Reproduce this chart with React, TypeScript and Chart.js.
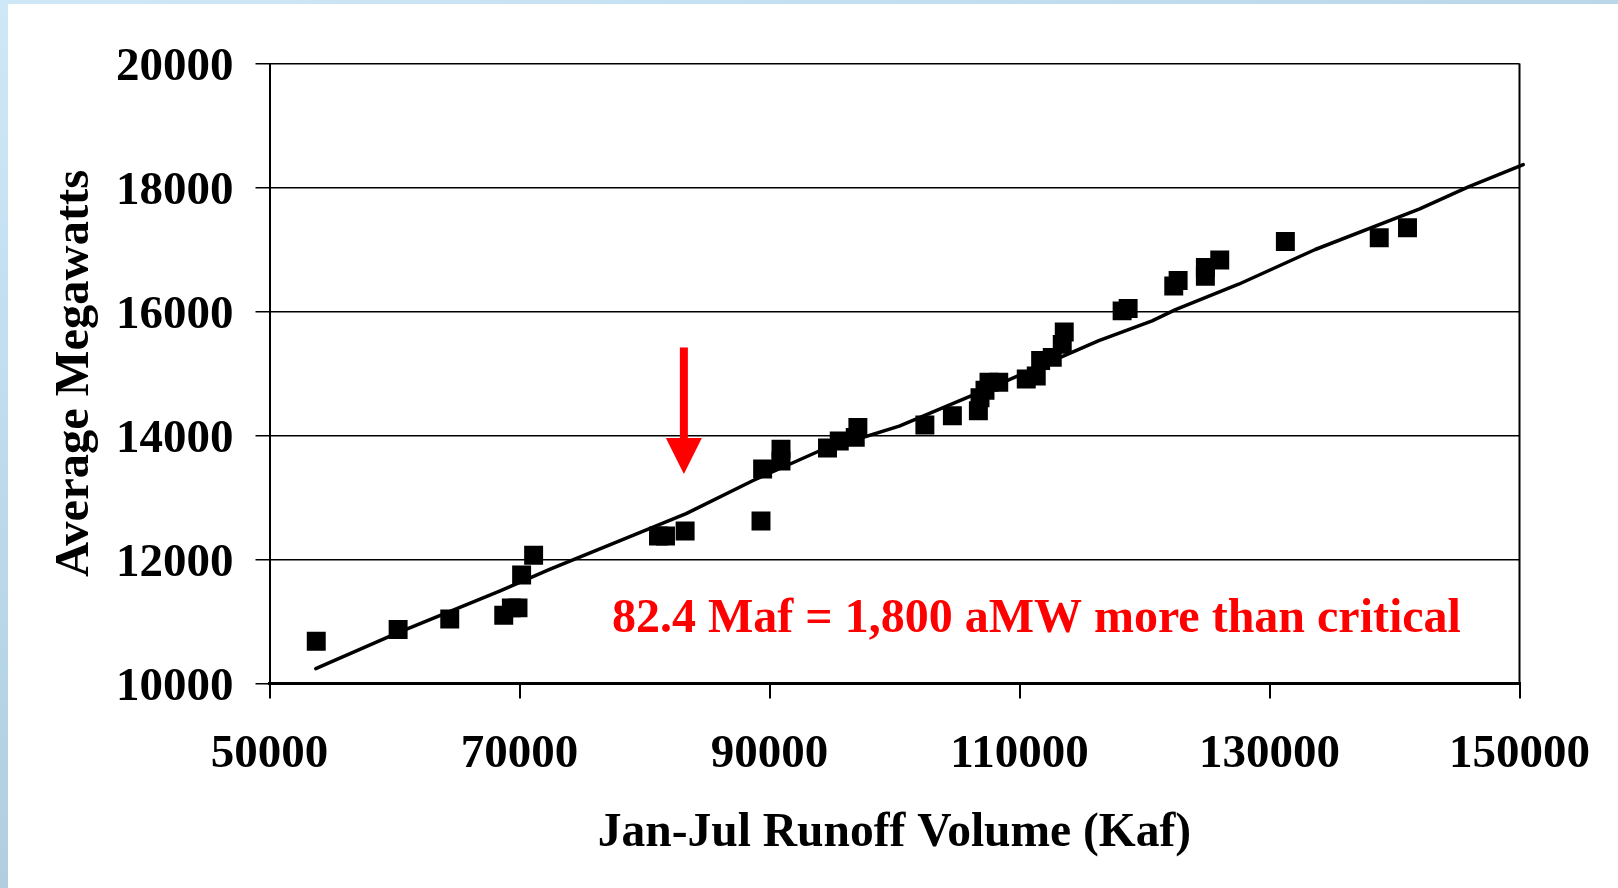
import React, { useEffect, useRef } from "react";
import { Chart, registerables } from "chart.js";

Chart.register(...registerables);

// ---- data ----
const runoffKaf = [
  53740, 60290, 64420, 68740, 69350, 69880, 70170, 71130, 81120, 81680,
  83250, 89320, 89450, 90920, 90920, 94640, 95580, 96860, 97070, 102430,
  104630, 106710, 106840, 107240, 107560, 108340, 110540, 111340, 111690, 112620,
  113420, 113580, 118210, 118690, 122340, 122690, 124870, 124870, 126020, 131270,
  138780, 141040,
];
const averageMW = [
  10680, 10870, 11040, 11100, 11220, 11220, 11750, 12070, 12380, 12380,
  12460, 12620, 13460, 13590, 13780, 13800, 13910, 13970, 14130, 14170,
  14320, 14400, 14610, 14730, 14860, 14860, 14910, 14960, 15210, 15260,
  15470, 15670, 16010, 16050, 16410, 16500, 16570, 16710, 16830, 17130,
  17190, 17350,
];
const trendRunoff = [
  53700, 60290, 68410, 72410, 78000, 83330, 88650, 93980, 100380, 108360,
  116350, 120610, 122480, 127530, 133660, 141970, 145910, 150300,
];
const trendMW = [
  10240, 10820, 11490, 11840, 12300, 12740, 13270, 13750, 14150, 14830,
  15530, 15850, 16030, 16440, 17000, 17650, 18010, 18370,
];
const xTicks = [50000, 70000, 90000, 110000, 130000, 150000];
const yTicks = [10000, 12000, 14000, 16000, 18000, 20000];

const xTitle = "Jan-Jul Runoff Volume (Kaf)";
const yTitle = "Average Megawatts";
const noteText = "82.4 Maf = 1,800 aMW more than critical";
const noteAt = { x: 77400, y: 10830 };
const arrowAt = { x: 83150, top: 15420, headBase: 13960, tip: 13380 };

const FONT = "'Liberation Serif', 'Times New Roman', serif";

export default function App() {
  const canvasRef = useRef<HTMLCanvasElement | null>(null);

  useEffect(() => {
    const canvas = canvasRef.current;
    if (!canvas) return;

    const annotPlugin = {
      id: "annot",
      afterDraw(chart: any) {
        const { ctx, chartArea } = chart;
        const xs = chart.scales.x;
        const ys = chart.scales.y;
        ctx.save();
        // right border of plot
        ctx.strokeStyle = "#000";
        ctx.lineWidth = 2;
        ctx.beginPath();
        ctx.moveTo(chartArea.right, chartArea.top);
        ctx.lineTo(chartArea.right, chartArea.bottom);
        ctx.stroke();

        // y tick labels (digits vertically centred on the grid lines)
        ctx.fillStyle = "#000";
        ctx.font = `bold 47px ${FONT}`;
        ctx.textAlign = "right";
        ctx.textBaseline = "alphabetic";
        yTicks.forEach((v) => {
          ctx.fillText(String(v), chartArea.left - 36, ys.getPixelForValue(v) + 16);
        });

        // red arrow
        const ax = xs.getPixelForValue(arrowAt.x);
        const aTop = ys.getPixelForValue(arrowAt.top);
        const aBase = ys.getPixelForValue(arrowAt.headBase);
        const aTip = ys.getPixelForValue(arrowAt.tip);
        ctx.fillStyle = "#FF0000";
        ctx.fillRect(ax - 4, aTop, 8, aBase - aTop + 1);
        ctx.beginPath();
        ctx.moveTo(ax - 18, aBase);
        ctx.lineTo(ax + 18, aBase);
        ctx.lineTo(ax, aTip);
        ctx.closePath();
        ctx.fill();

        // red note
        ctx.font = `bold 48px ${FONT}`;
        ctx.textAlign = "left";
        ctx.textBaseline = "alphabetic";
        ctx.fillText(noteText, xs.getPixelForValue(noteAt.x), ys.getPixelForValue(noteAt.y));
        ctx.restore();
      },
    };

    const chart = new Chart(canvas, {
      type: "scatter",
      data: {
        datasets: [
          {
            label: "Observed",
            data: runoffKaf.map((x, i) => ({ x, y: averageMW[i] })),
            pointStyle: "rect",
            pointRadius: 13.4,
            pointBorderWidth: 0,
            backgroundColor: "#000",
            borderColor: "#000",
            showLine: false,
          },
          {
            label: "Trend",
            data: trendRunoff.map((x, i) => ({ x, y: trendMW[i] })),
            showLine: true,
            pointRadius: 0,
            borderColor: "#000",
            borderWidth: 3.5,
            borderCapStyle: "round",
            borderJoinStyle: "round",
            clip: false as any,
          } as any,
        ],
      },
      options: {
        animation: false,
        responsive: false,
        maintainAspectRatio: false,
        events: [],
        layout: { padding: { left: 0, top: 63.5, right: 94.5, bottom: 0 } },
        plugins: {
          legend: { display: false },
          tooltip: { enabled: false },
        },
        scales: {
          x: {
            type: "linear",
            min: 50000,
            max: 150000,
            afterBuildTicks: (s: any) => {
              s.ticks = xTicks.map((v) => ({ value: v }));
            },
            afterFit: (s: any) => {
              s.height = 204.5;
            },
            grid: {
              drawOnChartArea: false,
              drawTicks: true,
              tickLength: 15,
              color: "#000",
              lineWidth: 2,
            },
            border: { display: true, color: "#000", width: 3 },
            ticks: {
              color: "#000",
              font: { family: FONT, size: 47, weight: "bold", lineHeight: 1.2 },
              padding: 28,
              maxRotation: 0,
              autoSkip: false,
              callback: (v: any) => String(v),
            },
            title: {
              display: true,
              text: xTitle,
              color: "#000",
              font: { family: FONT, size: 47.5, weight: "bold", lineHeight: 1.2 },
              padding: { top: 0, bottom: 26 },
            },
          },
          y: {
            type: "linear",
            min: 10000,
            max: 20000,
            afterBuildTicks: (s: any) => {
              s.ticks = yTicks.map((v) => ({ value: v }));
            },
            afterFit: (s: any) => {
              s.width = 269.5;
            },
            grid: {
              drawOnChartArea: true,
              drawTicks: true,
              tickLength: 14,
              color: "#000",
              lineWidth: 1.5,
            },
            border: { display: true, color: "#000", width: 2 },
            ticks: {
              display: false,
              autoSkip: false,
            },
            title: {
              display: true,
              text: yTitle,
              color: "#000",
              font: { family: FONT, size: 48.5, weight: "bold", lineHeight: 1.2 },
              padding: { top: 46, bottom: 0 },
            },
          },
        },
      },
      plugins: [annotPlugin],
    });

    return () => chart.destroy();
  }, []);

  return (
    <div
      style={{
        position: "fixed",
        left: 0,
        top: 0,
        width: 1618,
        height: 888,
        overflow: "hidden",
        background:
          "linear-gradient(160deg, #CFE8F7 0%, #B6D5E7 45%, #9FBBCC 100%)",
      }}
    >
      <div
        style={{
          position: "absolute",
          left: 8,
          top: 4,
          right: 0,
          bottom: 0,
          background: "#FFFFFF",
        }}
      />
      <canvas
        ref={canvasRef}
        width={1618}
        height={888}
        style={{ position: "absolute", left: 0, top: 0, width: 1618, height: 888 }}
      />
    </div>
  );
}
